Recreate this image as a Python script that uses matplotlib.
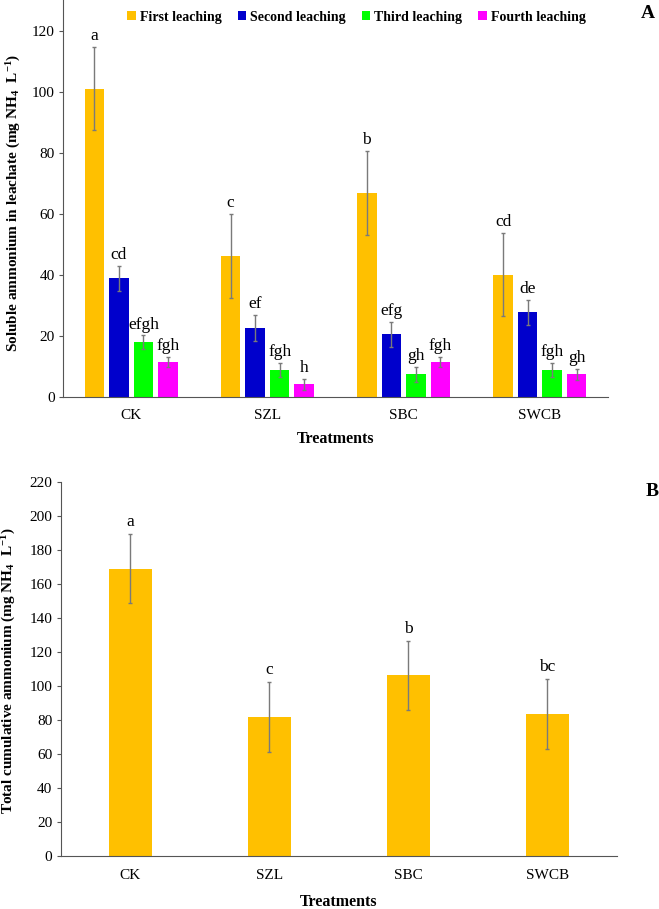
import numpy as np
import matplotlib
matplotlib.use("Agg")
import matplotlib.pyplot as plt
from matplotlib.patches import Patch

plt.rcParams['font.family'] = ['Liberation Serif', 'DejaVu Serif']
plt.rcParams['mathtext.fontset'] = 'custom'
plt.rcParams['mathtext.rm'] = 'Liberation Serif'
plt.rcParams['mathtext.bf'] = 'Liberation Serif:bold'
plt.rcParams['mathtext.default'] = 'bf'

treatments = ["CK", "SZL", "SBC", "SWCB"]
series = ["First leaching", "Second leaching", "Third leaching", "Fourth leaching"]
colors = ["#FFC000", "#0000CC", "#00FF00", "#FF00FF"]

# panel A: soluble ammonium per leaching event (rows = leaching, cols = treatment)
leach_vals = [
    [101.0, 46.2, 66.9, 40.1],
    [38.8, 22.6, 20.5, 27.7],
    [17.9, 8.8, 7.4, 8.8],
    [11.4, 4.1, 11.4, 7.4],
]
leach_err = [
    [13.7, 13.7, 13.7, 13.7],
    [4.0, 4.2, 4.2, 4.0],
    [2.3, 2.4, 2.4, 2.4],
    [1.6, 1.8, 1.7, 1.7],
]
leach_letters = [
    ["a", "c", "b", "cd"],
    ["cd", "ef", "efg", "de"],
    ["efgh", "fgh", "gh", "fgh"],
    ["fgh", "h", "fgh", "gh"],
]

# panel B: total cumulative ammonium
total_vals = [169.1, 81.8, 106.3, 83.6]
total_err = [20.4, 20.4, 20.3, 20.4]
total_letters = ["a", "c", "b", "bc"]

fig = plt.figure(figsize=(6.59, 9.09), dpi=100)
axA = fig.add_axes([0.0956, 0.5633, 0.827, 0.4367])
axB = fig.add_axes([0.0921, 0.0583, 0.8437, 0.4111])

x = np.arange(len(treatments))
width = 0.143
step = 0.18
err_kw = dict(ecolor="#7a7a7a", elinewidth=1.0, capsize=1.6, capthick=1.0)

for i in range(len(series)):
    pos = x + (i - 1.5) * step
    axA.bar(pos, leach_vals[i], width, color=colors[i], yerr=leach_err[i],
            error_kw=err_kw, zorder=2)
    for j in range(len(treatments)):
        axA.annotate(leach_letters[i][j], (pos[j], leach_vals[i][j] + leach_err[i][j]),
                     xytext=(0, 2), textcoords="offset points",
                     ha="center", va="bottom", fontsize=12.5)

axB.bar(x, total_vals, 0.31, color=colors[0], yerr=total_err, error_kw=err_kw, zorder=2)
for j in range(len(treatments)):
    axB.annotate(total_letters[j], (x[j], total_vals[j] + total_err[j]),
                 xytext=(0, 3), textcoords="offset points",
                 ha="center", va="bottom", fontsize=12.5)

for ax, top, ticks, lp in [(axA, 130, np.arange(0, 121, 20), 6),
                           (axB, 220, np.arange(0, 221, 20), 9)]:
    ax.set_xlim(-0.5, 3.5)
    ax.set_ylim(0, top)
    ax.set_yticks(ticks)
    ax.set_xticks(x)
    ax.set_xticklabels(treatments)
    ax.spines["top"].set_visible(False)
    ax.spines["right"].set_visible(False)
    ax.spines["left"].set_color("#555555")
    ax.spines["bottom"].set_color("#555555")
    ax.tick_params(axis="x", length=0, pad=9, labelsize=11)
    ax.tick_params(axis="y", length=3, width=0.8, color="#555555", pad=3, labelsize=11)
    ax.set_xlabel("Treatments", fontsize=11.5, fontweight="bold", labelpad=lp)

fig.text(14 / 659, 1 - 203 / 909,
         r"Soluble ammonium in leachate (mg NH$_{4}$  L$^{-1}$)",
         rotation=90, ha="center", va="center", fontsize=11, fontweight="bold")
fig.text(9 / 659, 1 - 671 / 909,
         r"Total cumulative ammonium (mg NH$_{4}$  L$^{-1}$)",
         rotation=90, ha="center", va="center", fontsize=11, fontweight="bold")

handles = [Patch(facecolor=c, edgecolor="none") for c in colors]
axA.legend(handles, series, ncol=4, frameon=False, loc="upper center",
           bbox_to_anchor=(0.5385, 1.005), prop={"weight": "bold", "size": 10},
           handlelength=0.6, handleheight=0.6, handletextpad=0.3, columnspacing=1.15)

fig.text(648 / 659, 1 - 14 / 909, "A", ha="center", va="center", fontsize=14, fontweight="bold")
fig.text(652 / 659, 1 - 492 / 909, "B", ha="center", va="center", fontsize=14, fontweight="bold")

fig.savefig("out.png", dpi=100)
